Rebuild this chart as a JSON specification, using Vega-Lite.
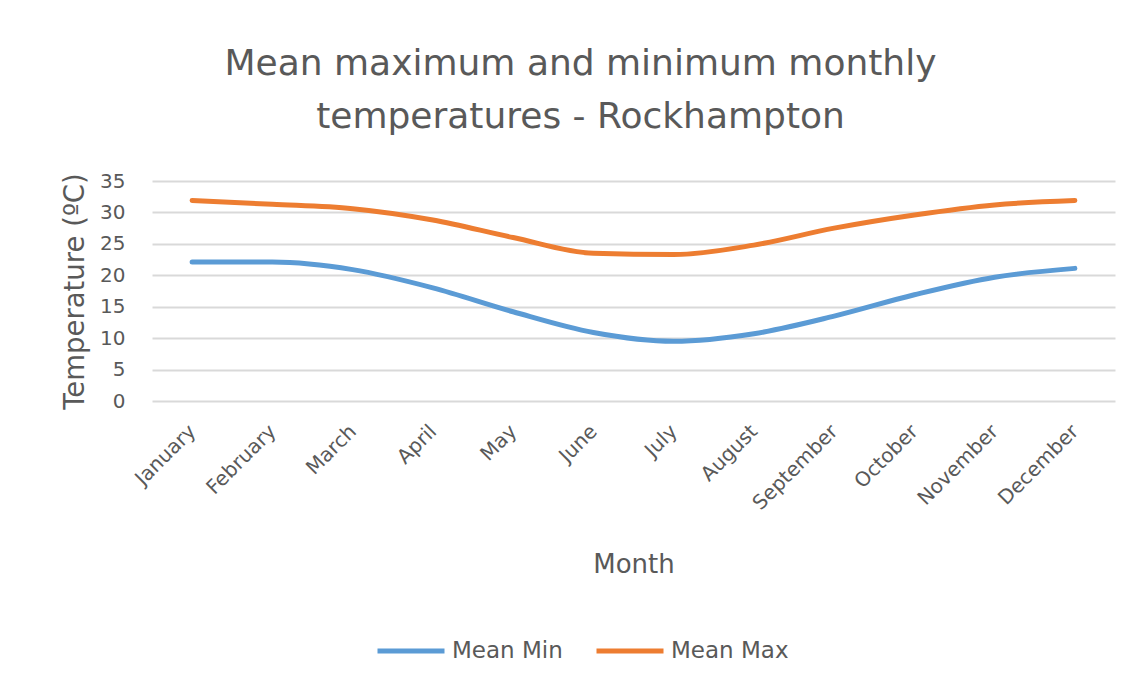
{
  "$schema": "https://vega.github.io/schema/vega-lite/v6.json",
  "width": 963,
  "height": 220,
  "autosize": {"type": "none"},
  "padding": {"left": 152, "top": 181, "right": 24, "bottom": 288},
  "background": "white",
  "title": {
    "text": ["Mean maximum and minimum monthly", "temperatures - Rockhampton"],
    "anchor": "middle",
    "dx": -53,
    "offset": 35,
    "font": "DejaVu Sans",
    "fontSize": 36,
    "fontWeight": "normal",
    "color": "#595959",
    "lineHeight": 53
  },
  "data": {
    "values": [
      {"month": "January", "series": "Mean Min", "temp": 22.1},
      {"month": "February", "series": "Mean Min", "temp": 22.1},
      {"month": "March", "series": "Mean Min", "temp": 20.9},
      {"month": "April", "series": "Mean Min", "temp": 18.0},
      {"month": "May", "series": "Mean Min", "temp": 14.2},
      {"month": "June", "series": "Mean Min", "temp": 10.9},
      {"month": "July", "series": "Mean Min", "temp": 9.5},
      {"month": "August", "series": "Mean Min", "temp": 10.7},
      {"month": "September", "series": "Mean Min", "temp": 13.5},
      {"month": "October", "series": "Mean Min", "temp": 16.9},
      {"month": "November", "series": "Mean Min", "temp": 19.7},
      {"month": "December", "series": "Mean Min", "temp": 21.1},
      {"month": "January", "series": "Mean Max", "temp": 31.9},
      {"month": "February", "series": "Mean Max", "temp": 31.3},
      {"month": "March", "series": "Mean Max", "temp": 30.6},
      {"month": "April", "series": "Mean Max", "temp": 28.8},
      {"month": "May", "series": "Mean Max", "temp": 26.0},
      {"month": "June", "series": "Mean Max", "temp": 23.5},
      {"month": "July", "series": "Mean Max", "temp": 23.3},
      {"month": "August", "series": "Mean Max", "temp": 24.8},
      {"month": "September", "series": "Mean Max", "temp": 27.5},
      {"month": "October", "series": "Mean Max", "temp": 29.6},
      {"month": "November", "series": "Mean Max", "temp": 31.2},
      {"month": "December", "series": "Mean Max", "temp": 31.9}
    ]
  },
  "mark": {"type": "line", "strokeWidth": 5, "interpolate": "monotone", "strokeCap": "round", "strokeJoin": "round"},
  "encoding": {
    "x": {
      "field": "month",
      "type": "ordinal",
      "sort": ["January","February","March","April","May","June","July","August","September","October","November","December"],
      "scale": {"type": "point", "padding": 0.5},
      "axis": {
        "title": "Month",
        "titleFont": "DejaVu Sans",
        "titleFontSize": 26,
        "titleFontWeight": "normal",
        "titleColor": "#595959",
        "titlePadding": 38,
        "labelFont": "DejaVu Sans",
        "labelFontSize": 20,
        "labelColor": "#595959",
        "labelAngle": -45,
        "labelAlign": "right",
        "labelBaseline": "middle",
        "labelPadding": 27,
        "ticks": false,
        "domain": false,
        "grid": false
      }
    },
    "y": {
      "field": "temp",
      "type": "quantitative",
      "scale": {"domain": [0, 35], "nice": false},
      "axis": {
        "title": "Temperature (ºC)",
        "titleFont": "DejaVu Sans",
        "titleFontSize": 27.5,
        "titleFontWeight": "normal",
        "titleColor": "#595959",
        "titlePadding": 10,
        "values": [0,5,10,15,20,25,30,35],
        "labelFont": "DejaVu Sans",
        "labelFontSize": 20,
        "labelColor": "#595959",
        "labelPadding": 27,
        "ticks": false,
        "domain": false,
        "grid": true,
        "gridColor": "#d9d9d9",
        "gridWidth": 1.8
      }
    },
    "color": {
      "field": "series",
      "type": "nominal",
      "scale": {"domain": ["Mean Min", "Mean Max"], "range": ["#5B9BD5", "#ED7D31"]},
      "legend": {
        "title": null,
        "orient": "none",
        "direction": "horizontal",
        "legendX": 223,
        "legendY": 434,
        "symbolType": "stroke",
        "symbolSize": 4489,
        "symbolStrokeWidth": 5,
        "labelFont": "DejaVu Sans",
        "labelFontSize": 23,
        "labelColor": "#595959",
        "labelOffset": 5,
        "columnPadding": 23
      }
    }
  },
  "config": {"view": {"stroke": null}}
}
